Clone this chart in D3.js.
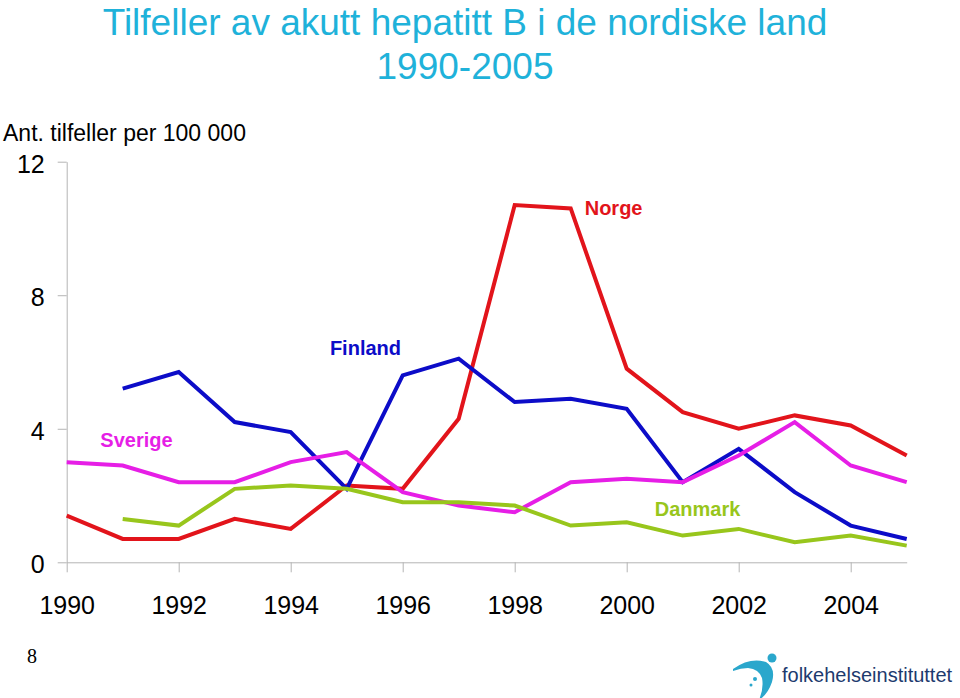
<!DOCTYPE html>
<html>
<head>
<meta charset="utf-8">
<script src="https://cdn.jsdelivr.net/npm/d3@7"></script>
<style>
  html, body { margin: 0; padding: 0; background: #fff; }
  svg { display: block; font-family: "Liberation Sans", Arial, sans-serif; }
</style>
</head>
<body>
<svg id="chart" width="960" height="698"></svg>
<script>
// ---- data ----
const years = [1990, 1991, 1992, 1993, 1994, 1995, 1996, 1997, 1998, 1999, 2000, 2001, 2002, 2003, 2004, 2005];
const norge   = [1.4, 0.7, 0.7, 1.3, 1.0, 2.3, 2.2, 4.3, 10.7, 10.6, 5.8, 4.5, 4.0, 4.4, 4.1, 3.2];
const finland = [null, 5.2, 5.7, 4.2, 3.9, 2.2, 5.6, 6.1, 4.8, 4.9, 4.6, 2.4, 3.4, 2.1, 1.1, 0.7];
const sverige = [3.0, 2.9, 2.4, 2.4, 3.0, 3.3, 2.1, 1.7, 1.5, 2.4, 2.5, 2.4, 3.2, 4.2, 2.9, 2.4];
const danmark = [null, 1.3, 1.1, 2.2, 2.3, 2.2, 1.8, 1.8, 1.7, 1.1, 1.2, 0.8, 1.0, 0.6, 0.8, 0.5];
const seriesNames = ["Norge", "Finland", "Sverige", "Danmark"];
const xTickYears = [1990, 1992, 1994, 1996, 1998, 2000, 2002, 2004];
const yTicks = [0, 4, 8, 12];
const titleLines = ["Tilfeller av akutt hepatitt B i de nordiske land", "1990-2005"];
const yAxisTitle = "Ant. tilfeller per 100 000";
const pageNumber = "8";
const logoText = "folkehelseinstituttet";

// ---- styles ----
const colors = { Norge: "#e2141b", Finland: "#0c0cc8", Sverige: "#e61ee6", Danmark: "#98c61c" };
const labelPos = {
  Norge:   { year: 1999.25, value: 10.4, anchor: "start" },
  Finland: { year: 1994.7,  value: 6.2,  anchor: "start" },
  Sverige: { year: 1990.6,  value: 3.45, anchor: "start" },
  Danmark: { year: 2000.5,  value: 1.4,  anchor: "start" }
};
const data = { Norge: norge, Finland: finland, Sverige: sverige, Danmark: danmark };

const svg = d3.select("#chart");

const x = d3.scaleLinear().domain([1990, 2005]).range([66.7, 906.7]);
const y = d3.scaleLinear().domain([0, 12]).range([562.3, 161.7]);

// title
const titleColor = "#1fb2da";
svg.append("text").attr("x", 465).attr("y", 35).attr("text-anchor", "middle")
  .attr("font-size", 37).attr("fill", titleColor).text(titleLines[0]);
svg.append("text").attr("x", 465).attr("y", 79).attr("text-anchor", "middle")
  .attr("font-size", 37).attr("fill", titleColor).text(titleLines[1]);

// y-axis title
svg.append("text").attr("x", 3).attr("y", 141).attr("font-size", 23)
  .attr("fill", "#000").text(yAxisTitle);

const axisColor = "#b4b4b4";

// y axis
const yAxis = svg.append("g").attr("transform", `translate(${x(1990)},0)`)
  .call(d3.axisLeft(y).tickValues(yTicks).tickSize(9).tickSizeOuter(0).tickPadding(13).tickFormat(d3.format("d")));
yAxis.select(".domain").attr("stroke", axisColor);
yAxis.selectAll(".tick line").attr("stroke", axisColor);
yAxis.selectAll(".tick text").attr("font-size", 25).attr("fill", "#000")
  .attr("font-family", "Liberation Sans, Arial, sans-serif").attr("dy", "0.42em");

// x axis
const xAxis = svg.append("g").attr("transform", `translate(0,${y(0)})`)
  .call(d3.axisBottom(x).tickValues(xTickYears).tickSize(10).tickSizeOuter(0).tickPadding(24).tickFormat(d3.format("d")));
xAxis.select(".domain").attr("stroke", axisColor);
xAxis.selectAll(".tick line").attr("stroke", axisColor);
xAxis.selectAll(".tick text").attr("font-size", 25).attr("fill", "#000")
  .attr("font-family", "Liberation Sans, Arial, sans-serif").attr("dy", "0.71em");

// lines
const line = d3.line()
  .defined(d => d.v !== null)
  .x(d => x(d.year))
  .y(d => y(d.v));

seriesNames.forEach(name => {
  const pts = years.map((yr, i) => ({ year: yr, v: data[name][i] }));
  svg.append("path").datum(pts)
    .attr("d", line)
    .attr("fill", "none")
    .attr("stroke", colors[name])
    .attr("stroke-width", 4)
    .attr("stroke-linejoin", "miter");
});

// labels
seriesNames.forEach(name => {
  const p = labelPos[name];
  svg.append("text")
    .attr("x", x(p.year)).attr("y", y(p.value))
    .attr("text-anchor", p.anchor)
    .attr("font-size", 20).attr("font-weight", "bold")
    .attr("fill", colors[name]).text(name);
});

// page number
svg.append("text").attr("x", 27).attr("y", 663).attr("font-size", 20)
  .attr("font-family", "Liberation Serif, Times New Roman, serif").attr("fill", "#000").text(pageNumber);

// logo
const logo = svg.append("g");
const logoBlue = "#2aa7cc";
logo.append("path")
  .attr("d", "M733,669 Q750,657 766,662 Q776,668 772,682 Q768,694 759,700 Q764,688 762,678 Q759,669 748,668 Q741,668 733,671 Z")
  .attr("fill", logoBlue);
logo.append("circle").attr("cx", 772).attr("cy", 658).attr("r", 4.5).attr("fill", logoBlue);
logo.append("circle").attr("cx", 755).attr("cy", 679).attr("r", 2).attr("fill", logoBlue);
logo.append("circle").attr("cx", 751).attr("cy", 685).attr("r", 1.5).attr("fill", logoBlue);
logo.append("text").attr("x", 782).attr("y", 682).attr("font-size", 20)
  .attr("font-family", "Liberation Sans, Arial, sans-serif")
  .attr("fill", "#1d3a6e").text(logoText);
</script>
</body>
</html>
